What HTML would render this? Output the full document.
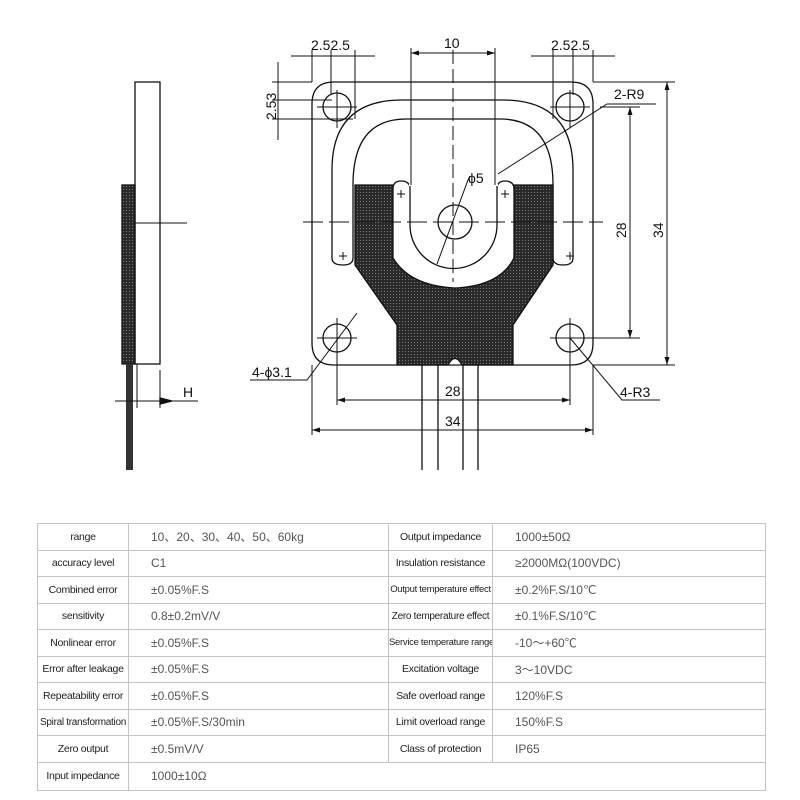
<!DOCTYPE html>
<html><head><meta charset="utf-8"><style>
body{margin:0;background:#fff;width:800px;height:800px;overflow:hidden;position:relative;font-family:"Liberation Sans",sans-serif}
svg{position:absolute;left:0;top:0}
table{position:absolute;left:37px;top:523px;width:728px;border-collapse:collapse;table-layout:fixed}
td{border:1px solid #c4c4c4;height:25.5px;padding:0;font-size:10.5px;color:#222;white-space:nowrap;overflow:hidden}
td.l{text-align:center;letter-spacing:-0.3px}
td.v{color:#555;font-size:12px;padding-left:22px}
</style></head><body>
<svg width="800" height="500" viewBox="0 0 800 500" font-family="Liberation Sans, DejaVu Sans, sans-serif">
<defs>
<pattern id="dot" width="3" height="3" patternUnits="userSpaceOnUse"><rect width="3" height="3" fill="#2a2a2a"/><rect width="1" height="1" fill="#777"/></pattern>
<marker id="a" markerWidth="8" markerHeight="6" refX="8" refY="3" orient="auto-start-reverse"><path d="M0,0.5 L8,3 L0,5.5z" fill="#111"/></marker>
</defs>
<g stroke="#111" fill="none" stroke-width="1.3">
<!-- side view -->
<rect x="135" y="82" width="25" height="282"/>
<rect x="122" y="185" width="13" height="179" fill="url(#dot)" stroke="#111"/>
<rect x="126" y="364" width="7" height="106" fill="#333" stroke="none"/>
<line x1="135" y1="223" x2="187" y2="223" stroke-width="1"/>
<line x1="137" y1="364" x2="137" y2="408" stroke-width="1"/>
<line x1="160" y1="370" x2="160" y2="408" stroke-width="1"/>
<line x1="115" y1="401" x2="198" y2="401" stroke-width="1"/>
<path d="M172,401 L160,398 L160,404z" fill="#111"/>
<!-- plate -->
<path d="M334,82 H571 Q593,82 593,104 V343 Q593,365 571,365 H334 Q312,365 312,343 V104 Q312,82 334,82Z"/>
<!-- outer ring -->
<path d="M332,258 V170 Q332,100 402,100 H503 Q573,100 573,170 V258 Q573,265 563,265 Q553,265 553,258 V185 Q553,119 500,119 H406 Q353,119 353,185 V258 Q353,265 343,265 Q332,265 332,258Z"/>
<!-- dark region -->
<path d="M355,185 H553 V265 L513,325 V365 H462 Q455,352 448,365 H397 V325 L355,265Z" fill="url(#dot)"/>
<path d="M393,189 Q393,181 401,181 Q410,181 410,189 V225 A43,43 0 0 0 497,225 V189 Q497,181 505,181 Q514,181 514,189 V258 Q500,286 455,288 Q410,286 393,258 Z" fill="#fff"/>
<path d="M409,184 H498 V225 A43.5,43.5 0 0 1 409,225 Z" fill="#fff" stroke="none"/>
<path d="M410,186 V225 A43,43 0 0 0 497,225 V186" />
<!-- holes -->
<circle cx="337" cy="107" r="14"/><circle cx="570" cy="107" r="14"/>
<circle cx="337" cy="338" r="14"/><circle cx="570" cy="338" r="14"/>
<circle cx="455" cy="222" r="17"/>
<!-- wires -->
<line x1="422" y1="365" x2="422" y2="470"/><line x1="438" y1="365" x2="438" y2="470"/>
<line x1="463" y1="365" x2="463" y2="470"/><line x1="478" y1="365" x2="478" y2="470"/>
</g>
<g stroke="#111" stroke-width="1" fill="none">
<!-- center lines -->
<line x1="453" y1="50" x2="453" y2="282" stroke-dasharray="14,5"/>
<line x1="303" y1="222" x2="603" y2="222" stroke-dasharray="20,6"/>
<line x1="317" y1="107" x2="357" y2="107"/><line x1="337" y1="90" x2="337" y2="128"/>
<line x1="550" y1="107" x2="590" y2="107"/><line x1="570" y1="90" x2="570" y2="128"/>
<line x1="317" y1="338" x2="357" y2="338"/><line x1="337" y1="318" x2="337" y2="360"/>
<line x1="550" y1="338" x2="590" y2="338"/><line x1="570" y1="318" x2="570" y2="360"/>
<!-- plus marks -->
<path d="M339,256h8M343,252v8 M566,256h8M570,252v8 M397,194h8M401,190v8 M501,194h8M505,190v8"/>
<!-- top dims -->
<line x1="411" y1="48" x2="411" y2="185"/><line x1="495" y1="48" x2="495" y2="185"/>
<line x1="411" y1="53" x2="495" y2="53" marker-start="url(#a)" marker-end="url(#a)"/>
<line x1="312" y1="50" x2="312" y2="82"/><line x1="331" y1="50" x2="331" y2="95"/><line x1="355" y1="50" x2="355" y2="119"/>
<line x1="291" y1="56" x2="375" y2="56"/>
<line x1="553" y1="50" x2="553" y2="119"/><line x1="573" y1="50" x2="573" y2="95"/><line x1="593" y1="50" x2="593" y2="82"/>
<line x1="531" y1="56" x2="615" y2="56"/>
<!-- left 2.53 -->
<line x1="272" y1="82" x2="312" y2="82"/><line x1="272" y1="100" x2="332" y2="100"/><line x1="272" y1="119" x2="353" y2="119"/>
<line x1="278" y1="62" x2="278" y2="140"/>
<!-- right dims -->
<line x1="593" y1="82" x2="675" y2="82"/><line x1="593" y1="365" x2="675" y2="365"/>
<line x1="570" y1="338" x2="640" y2="338"/><line x1="600" y1="107" x2="640" y2="107"/>
<line x1="630" y1="107" x2="630" y2="338" marker-start="url(#a)" marker-end="url(#a)"/>
<line x1="667" y1="82" x2="667" y2="365" marker-start="url(#a)" marker-end="url(#a)"/>
<!-- bottom dims -->
<line x1="337" y1="355" x2="337" y2="405"/><line x1="570" y1="355" x2="570" y2="405"/>
<line x1="312" y1="365" x2="312" y2="435"/><line x1="593" y1="365" x2="593" y2="435"/>
<line x1="337" y1="400" x2="570" y2="400" marker-start="url(#a)" marker-end="url(#a)"/>
<line x1="312" y1="430" x2="593" y2="430" marker-start="url(#a)" marker-end="url(#a)"/>
<!-- leaders -->
<path d="M498,174 L607,104 H656"/>
<path d="M437,264 L468,180 L470,176"/>
<path d="M250,380 H307 L357,313"/>
<path d="M570,338 L622,400 H660"/>
</g>
<g fill="#111" font-size="14">
<text x="311" y="50">2.52.5</text>
<text x="551" y="50">2.52.5</text>
<text x="444" y="48">10</text>
<text x="614" y="99">2-R9</text>
<text x="468" y="183">ϕ5</text>
<text x="252" y="377">4-ϕ3.1</text>
<text x="620" y="397">4-R3</text>
<text x="445" y="396">28</text>
<text x="445" y="426">34</text>
<text x="183" y="397">H</text>
<text transform="translate(276,120) rotate(-90)">2.53</text>
<text transform="translate(626,238) rotate(-90)">28</text>
<text transform="translate(663,238) rotate(-90)">34</text>
</g>
</svg>
<table>
<colgroup><col style="width:91px"><col style="width:260px"><col style="width:104px"><col style="width:273px"></colgroup>
<tr><td class="l">range</td><td class="v">10、20、30、40、50、60kg</td><td class="l">Output impedance</td><td class="v">1000±50Ω</td></tr>
<tr><td class="l">accuracy level</td><td class="v">C1</td><td class="l">Insulation resistance</td><td class="v">≥2000MΩ(100VDC)</td></tr>
<tr><td class="l">Combined error</td><td class="v">±0.05%F.S</td><td class="l" style="font-size:9.5px">Output temperature effect</td><td class="v">±0.2%F.S/10℃</td></tr>
<tr><td class="l">sensitivity</td><td class="v">0.8±0.2mV/V</td><td class="l" style="font-size:10px">Zero temperature effect</td><td class="v">±0.1%F.S/10℃</td></tr>
<tr><td class="l">Nonlinear error</td><td class="v">±0.05%F.S</td><td class="l" style="font-size:9.5px">Service temperature range</td><td class="v">-10～+60℃</td></tr>
<tr><td class="l">Error after leakage</td><td class="v">±0.05%F.S</td><td class="l">Excitation voltage</td><td class="v">3～10VDC</td></tr>
<tr><td class="l">Repeatability error</td><td class="v">±0.05%F.S</td><td class="l">Safe overload range</td><td class="v">120%F.S</td></tr>
<tr><td class="l" style="font-size:10px">Spiral transformation</td><td class="v">±0.05%F.S/30min</td><td class="l">Limit overload range</td><td class="v">150%F.S</td></tr>
<tr><td class="l">Zero output</td><td class="v">±0.5mV/V</td><td class="l">Class of protection</td><td class="v">IP65</td></tr>
<tr><td class="l" style="height:27px">Input impedance</td><td class="v" colspan="3">1000±10Ω</td></tr>
</table>
</body></html>
